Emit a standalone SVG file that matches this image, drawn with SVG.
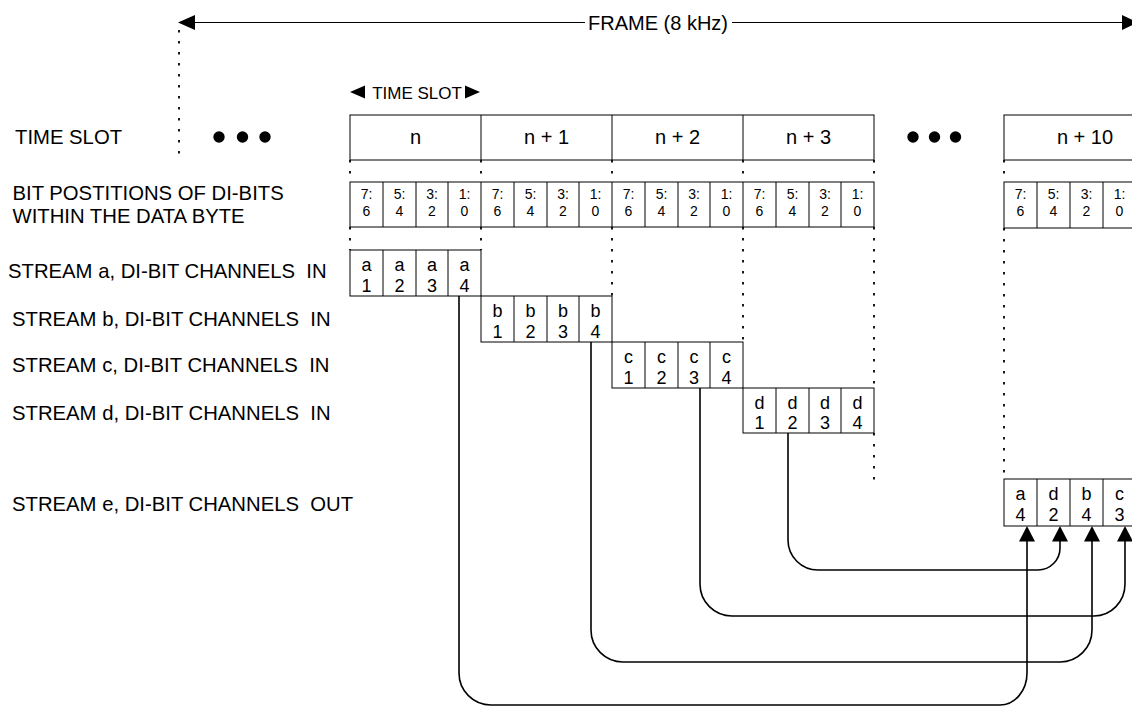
<svg xmlns="http://www.w3.org/2000/svg" width="1132" height="706" viewBox="0 0 1132 706">
<style>
text{font-family:"Liberation Sans",Arial,sans-serif;fill:#000}
.lbl{font-size:20.3px}
.slot{font-size:20px;text-anchor:middle}
.bit{font-size:14px;text-anchor:middle}
.ch{font-size:18px;text-anchor:middle}
.box{fill:#fff;stroke:#000;stroke-width:1}
.div{stroke:#000;stroke-width:1}
.dot{stroke:#000;stroke-width:1.8;stroke-dasharray:2.5 8.5;fill:none}
.con{fill:none;stroke:#000;stroke-width:1.6}
.ah{fill:#000}
</style>
<rect width="1132" height="706" fill="#fff"/>

<g id="frame">
  <line x1="192" y1="22.5" x2="585" y2="22.5" stroke="#000" stroke-width="1.2"/>
  <line x1="732" y1="22.5" x2="1124" y2="22.5" stroke="#000" stroke-width="1.2"/>
  <polygon class="ah" points="178,22.5 195,15 195,30"/>
  <polygon class="ah" points="1138,22.5 1122,15 1122,30"/>
  <text x="658" y="29.5" font-size="20" text-anchor="middle">FRAME (8 kHz)</text>
  <line class="dot" x1="179" y1="30" x2="179" y2="158"/>
</g>

<g id="timeslot-label">
  <polygon class="ah" points="350,92 365,85.5 365,98.5"/>
  <polygon class="ah" points="480,92 465,85.5 465,98.5"/>
  <text x="417" y="98.5" font-size="17" text-anchor="middle">TIME SLOT</text>
</g>

<g id="left-labels">
  <text class="lbl" x="15" y="144">TIME SLOT</text>
  <text class="lbl" x="12.5" y="200">BIT POSTITIONS OF DI-BITS</text>
  <text class="lbl" x="12.5" y="223">WITHIN THE DATA BYTE</text>
  <text class="lbl" x="8" y="278">STREAM a, DI-BIT CHANNELS&#160; IN</text>
  <text class="lbl" x="12" y="326">STREAM b, DI-BIT CHANNELS&#160; IN</text>
  <text class="lbl" x="12" y="372">STREAM c, DI-BIT CHANNELS&#160; IN</text>
  <text class="lbl" x="12" y="420">STREAM d, DI-BIT CHANNELS&#160; IN</text>
  <text class="lbl" x="12" y="511">STREAM e, DI-BIT CHANNELS&#160; OUT</text>
</g>

<g id="ellipsis-left">
  <circle cx="219" cy="137" r="5.7"/>
  <circle cx="242.5" cy="137" r="5.7"/>
  <circle cx="265" cy="137" r="5.7"/>
</g>
<g id="ellipsis-right">
  <circle cx="913" cy="137" r="5.7"/>
  <circle cx="934.5" cy="137" r="5.7"/>
  <circle cx="955.5" cy="137" r="5.7"/>
</g>

<g id="guides">
  <line class="dot" x1="350" y1="160" x2="350" y2="182"/>
  <line class="dot" x1="350" y1="227" x2="350" y2="250"/>
  <line class="dot" x1="481" y1="160" x2="481" y2="182"/>
  <line class="dot" x1="481" y1="227" x2="481" y2="250"/>
  <line class="dot" x1="612" y1="160" x2="612" y2="182"/>
  <line class="dot" x1="612" y1="227" x2="612" y2="296"/>
  <line class="dot" x1="743" y1="160" x2="743" y2="182"/>
  <line class="dot" x1="743" y1="227" x2="743" y2="342"/>
  <line class="dot" x1="874" y1="160" x2="874" y2="182"/>
  <line class="dot" x1="874" y1="227" x2="874" y2="388"/>
  <line class="dot" x1="874" y1="433" x2="874" y2="481"/>
  <line class="dot" x1="1004" y1="160" x2="1004" y2="182"/>
  <line class="dot" x1="1004" y1="228" x2="1004" y2="479"/>
</g>

<g id="slots">
  <rect class="box" x="350" y="115" width="524" height="45"/>
  <line class="div" x1="481" y1="115" x2="481" y2="160"/>
  <line class="div" x1="612" y1="115" x2="612" y2="160"/>
  <line class="div" x1="743" y1="115" x2="743" y2="160"/>
  <text class="slot" x="415.5" y="143.5">n</text>
  <text class="slot" x="546.5" y="143.5">n + 1</text>
  <text class="slot" x="677.5" y="143.5">n + 2</text>
  <text class="slot" x="808.5" y="143.5">n + 3</text>
</g>
<g id="slot-n10">
  <rect class="box" x="1004" y="115" width="140" height="45"/>
  <text class="slot" x="1085" y="143.5">n + 10</text>
</g>

<g id="bits">
  <rect class="box" x="350" y="182" width="524" height="45"/>
  <g class="div">
    <line x1="383" y1="182" x2="383" y2="227"/><line x1="416" y1="182" x2="416" y2="227"/><line x1="448" y1="182" x2="448" y2="227"/><line x1="481" y1="182" x2="481" y2="227"/>
    <line x1="514" y1="182" x2="514" y2="227"/><line x1="547" y1="182" x2="547" y2="227"/><line x1="579" y1="182" x2="579" y2="227"/><line x1="612" y1="182" x2="612" y2="227"/>
    <line x1="645" y1="182" x2="645" y2="227"/><line x1="678" y1="182" x2="678" y2="227"/><line x1="710" y1="182" x2="710" y2="227"/><line x1="743" y1="182" x2="743" y2="227"/>
    <line x1="776" y1="182" x2="776" y2="227"/><line x1="809" y1="182" x2="809" y2="227"/><line x1="841" y1="182" x2="841" y2="227"/>
  </g>
  <g class="bit">
    <text x="366.5" y="199">7:</text><text x="366.5" y="216">6</text>
    <text x="399.5" y="199">5:</text><text x="399.5" y="216">4</text>
    <text x="432" y="199">3:</text><text x="432" y="216">2</text>
    <text x="464.5" y="199">1:</text><text x="464.5" y="216">0</text>
    <text x="497.5" y="199">7:</text><text x="497.5" y="216">6</text>
    <text x="530.5" y="199">5:</text><text x="530.5" y="216">4</text>
    <text x="563" y="199">3:</text><text x="563" y="216">2</text>
    <text x="595.5" y="199">1:</text><text x="595.5" y="216">0</text>
    <text x="628.5" y="199">7:</text><text x="628.5" y="216">6</text>
    <text x="661.5" y="199">5:</text><text x="661.5" y="216">4</text>
    <text x="694" y="199">3:</text><text x="694" y="216">2</text>
    <text x="726.5" y="199">1:</text><text x="726.5" y="216">0</text>
    <text x="759.5" y="199">7:</text><text x="759.5" y="216">6</text>
    <text x="792.5" y="199">5:</text><text x="792.5" y="216">4</text>
    <text x="825" y="199">3:</text><text x="825" y="216">2</text>
    <text x="857.5" y="199">1:</text><text x="857.5" y="216">0</text>
  </g>
</g>
<g id="bits-n10">
  <rect class="box" x="1004" y="182" width="140" height="46"/>
  <g class="div">
    <line x1="1037" y1="182" x2="1037" y2="228"/><line x1="1070" y1="182" x2="1070" y2="228"/><line x1="1103" y1="182" x2="1103" y2="228"/>
  </g>
  <g class="bit">
    <text x="1020.5" y="199">7:</text><text x="1020.5" y="216">6</text>
    <text x="1053.5" y="199">5:</text><text x="1053.5" y="216">4</text>
    <text x="1086.5" y="199">3:</text><text x="1086.5" y="216">2</text>
    <text x="1119.5" y="199">1:</text><text x="1119.5" y="216">0</text>
  </g>
</g>

<g id="stream-a">
  <rect class="box" x="350" y="250" width="131" height="46"/>
  <g class="div"><line x1="383" y1="250" x2="383" y2="296"/><line x1="416" y1="250" x2="416" y2="296"/><line x1="448" y1="250" x2="448" y2="296"/></g>
  <g class="ch">
    <text x="366.5" y="270.5">a</text><text x="366.5" y="291.5">1</text>
    <text x="399.5" y="270.5">a</text><text x="399.5" y="291.5">2</text>
    <text x="432" y="270.5">a</text><text x="432" y="291.5">3</text>
    <text x="464.5" y="270.5">a</text><text x="464.5" y="291.5">4</text>
  </g>
</g>
<g id="stream-b">
  <rect class="box" x="481" y="296" width="131" height="46"/>
  <g class="div"><line x1="514" y1="296" x2="514" y2="342"/><line x1="547" y1="296" x2="547" y2="342"/><line x1="579" y1="296" x2="579" y2="342"/></g>
  <g class="ch">
    <text x="497.5" y="316.5">b</text><text x="497.5" y="337.5">1</text>
    <text x="530.5" y="316.5">b</text><text x="530.5" y="337.5">2</text>
    <text x="563" y="316.5">b</text><text x="563" y="337.5">3</text>
    <text x="595.5" y="316.5">b</text><text x="595.5" y="337.5">4</text>
  </g>
</g>
<g id="stream-c">
  <rect class="box" x="612" y="342" width="131" height="46"/>
  <g class="div"><line x1="645" y1="342" x2="645" y2="388"/><line x1="678" y1="342" x2="678" y2="388"/><line x1="710" y1="342" x2="710" y2="388"/></g>
  <g class="ch">
    <text x="628.5" y="362.5">c</text><text x="628.5" y="383.5">1</text>
    <text x="661.5" y="362.5">c</text><text x="661.5" y="383.5">2</text>
    <text x="694" y="362.5">c</text><text x="694" y="383.5">3</text>
    <text x="726.5" y="362.5">c</text><text x="726.5" y="383.5">4</text>
  </g>
</g>
<g id="stream-d">
  <rect class="box" x="743" y="388" width="131" height="45"/>
  <g class="div"><line x1="776" y1="388" x2="776" y2="433"/><line x1="809" y1="388" x2="809" y2="433"/><line x1="841" y1="388" x2="841" y2="433"/></g>
  <g class="ch">
    <text x="759.5" y="408.5">d</text><text x="759.5" y="429">1</text>
    <text x="792.5" y="408.5">d</text><text x="792.5" y="429">2</text>
    <text x="825" y="408.5">d</text><text x="825" y="429">3</text>
    <text x="857.5" y="408.5">d</text><text x="857.5" y="429">4</text>
  </g>
</g>
<g id="stream-e">
  <rect class="box" x="1004" y="479" width="140" height="47"/>
  <g class="div"><line x1="1037" y1="479" x2="1037" y2="526"/><line x1="1070" y1="479" x2="1070" y2="526"/><line x1="1103" y1="479" x2="1103" y2="526"/></g>
  <g class="ch">
    <text x="1020.5" y="500">a</text><text x="1020.5" y="521">4</text>
    <text x="1053.5" y="500">d</text><text x="1053.5" y="521">2</text>
    <text x="1086.5" y="500">b</text><text x="1086.5" y="521">4</text>
    <text x="1119.5" y="500">c</text><text x="1119.5" y="521">3</text>
  </g>
</g>

<g id="connectors">
  <path class="con" d="M459,296 V673 A32,32 0 0 0 491,705 H1000 A27,32 0 0 0 1027,673 V540"/>
  <path class="con" d="M591,342 V630 A32,32 0 0 0 623,662 H1060 A32,32 0 0 0 1092,630 V540"/>
  <path class="con" d="M700,388 V584 A32,32 0 0 0 732,616 H1094 A31,32 0 0 0 1125,584 V540"/>
  <path class="con" d="M788,433 V540 A30,30 0 0 0 818,570 H1038 A22,22 0 0 0 1060,548 V540"/>
  <polygon class="ah" points="1027,526 1019,541.5 1035,541.5"/>
  <polygon class="ah" points="1060,526 1052,541.5 1068,541.5"/>
  <polygon class="ah" points="1092,526 1084,541.5 1100,541.5"/>
  <polygon class="ah" points="1125,526 1117,541.5 1133,541.5"/>
</g>
</svg>
